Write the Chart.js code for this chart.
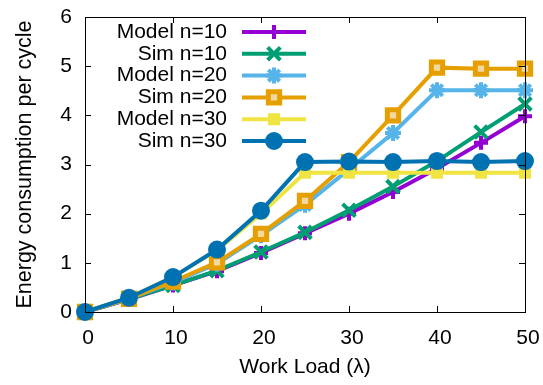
<!DOCTYPE html>
<html>
<head>
<meta charset="utf-8">
<script src="https://cdn.jsdelivr.net/npm/chart.js@4/dist/chart.umd.min.js"></script>
<style>
  html, body { margin: 0; padding: 0; background: #fff; }
  #wrap { width: 543px; height: 385px; position: relative; }
</style>
</head>
<body>
<div id="wrap"><canvas id="energyChart"></canvas></div>
<script>
// work load values on the x axis
const workLoad = [0, 5, 10, 15, 20, 25, 30, 35, 40, 45, 50];

// energy per cycle, one array per curve
const modelN10 = [0, 0.26, 0.54, 0.83, 1.20, 1.60, 2.00, 2.44, 2.92, 3.44, 3.98];
const simN10   = [0, 0.27, 0.54, 0.84, 1.22, 1.62, 2.07, 2.55, 3.07, 3.66, 4.23];
const modelN20 = [0, 0.27, 0.60, 0.98, 1.56, 2.18, 2.90, 3.64, 4.51, 4.51, 4.51];
const simN20   = [0, 0.27, 0.62, 1.01, 1.59, 2.26, 3.05, 4.00, 4.97, 4.95, 4.95];
const modelN30 = [0, 0.29, 0.71, 1.26, 2.00, 2.83, 2.83, 2.83, 2.83, 2.83, 2.83];
const simN30   = [0, 0.29, 0.71, 1.27, 2.06, 3.05, 3.06, 3.05, 3.07, 3.05, 3.07];

const seriesNames = ['Model n=10', 'Sim n=10', 'Model n=20', 'Sim n=20', 'Model n=30', 'Sim n=30'];
const seriesData = [modelN10, simN10, modelN20, simN20, modelN30, simN30];

const xTicks = [0, 10, 20, 30, 40, 50];
const yTicks = [0, 1, 2, 3, 4, 5, 6];

// gnuplot-like line/point styles
const styles = [
  { color: '#9400d3', pointStyle: 'cross',    radius: 7, bw: 4, fill: '#9400d3' },
  { color: '#009e73', pointStyle: 'crossRot', radius: 9, bw: 4, fill: '#009e73' },
  { color: '#56b4e9', pointStyle: 'star',     radius: 8, bw: 4, fill: '#56b4e9' },
  { color: '#e69f00', pointStyle: 'rect',     radius: 8, bw: 5, fill: '#f3d9a0' },
  { color: '#f0e442', pointStyle: 'rect',     radius: 7, bw: 2, fill: '#f0e442' },
  { color: '#0072b2', pointStyle: 'circle',   radius: 8, bw: 2, fill: '#0072b2' }
];

Chart.defaults.font.family = "'Liberation Sans', Arial, sans-serif";
Chart.defaults.font.size = 21;
Chart.defaults.color = '#000';

const datasets = seriesNames.map((name, i) => ({
  label: name,
  data: workLoad.map((x, j) => ({ x: x, y: seriesData[i][j] })),
  borderColor: styles[i].color,
  backgroundColor: styles[i].fill,
  borderWidth: 4,
  pointStyle: styles[i].pointStyle,
  pointRadius: styles[i].radius,
  pointBorderWidth: styles[i].bw,
  pointBorderColor: styles[i].color,
  pointBackgroundColor: styles[i].fill,
  tension: 0,
  clip: false,
  order: seriesNames.length - 1 - i
}));

// border box with inward ticks on all four sides, then the key
const framePlugin = {
  id: 'frame',
  afterDatasetsDraw(chart) {
    const ctx = chart.ctx;
    const { left, right, top, bottom } = chart.chartArea;
    const xs = chart.scales.x, ys = chart.scales.y;
    ctx.save();
    ctx.strokeStyle = '#000';
    ctx.lineWidth = 1;
    ctx.strokeRect(Math.round(left) + 0.5, Math.round(top) + 0.5, Math.round(right - left), Math.round(bottom - top));
    ctx.beginPath();
    xTicks.slice(1, -1).forEach(v => {
      const px = Math.round(xs.getPixelForValue(v)) + 0.5;
      ctx.moveTo(px, bottom); ctx.lineTo(px, bottom - 6);
      ctx.moveTo(px, top); ctx.lineTo(px, top + 6);
    });
    yTicks.slice(1, -1).forEach(v => {
      const py = Math.round(ys.getPixelForValue(v)) + 0.5;
      ctx.moveTo(left, py); ctx.lineTo(left + 6, py);
      ctx.moveTo(right, py); ctx.lineTo(right - 6, py);
    });
    ctx.stroke();

    // key
    const textRight = 227, lineStart = 242, lineEnd = 306, rowTop = 32, rowGap = 21.8;
    ctx.font = "21px 'Liberation Sans', Arial, sans-serif";
    ctx.textAlign = 'right';
    ctx.textBaseline = 'middle';
    seriesNames.forEach((name, i) => {
      const y = rowTop + i * rowGap;
      const st = styles[i];
      ctx.fillStyle = '#000';
      ctx.fillText(name, textRight, y);
      ctx.strokeStyle = st.color;
      ctx.lineWidth = 4;
      ctx.beginPath();
      ctx.moveTo(lineStart, y);
      ctx.lineTo(lineEnd, y);
      ctx.stroke();
      ctx.fillStyle = st.fill;
      ctx.lineWidth = st.bw;
      Chart.helpers.drawPoint(ctx, { pointStyle: st.pointStyle, radius: st.radius, borderWidth: st.bw, rotation: 0 }, (lineStart + lineEnd) / 2, y);
    });
    ctx.restore();
  }
};

new Chart(document.getElementById('energyChart'), {
  type: 'line',
  data: { datasets: datasets },
  options: {
    responsive: true,
    maintainAspectRatio: false,
    animation: false,
    layout: { padding: { left: 0, top: 17, right: 18, bottom: 0 } },
    plugins: { legend: { display: false }, tooltip: { enabled: false } },
    scales: {
      x: {
        type: 'linear',
        min: 0,
        max: 50,
        afterBuildTicks(scale) { scale.ticks = xTicks.map(v => ({ value: v })); },
        afterFit(scale) {
          scale.height = 73;
          scale.paddingLeft = 0;
          scale.paddingRight = 0;
        },
        grid: { display: false, drawTicks: false },
        border: { display: false },
        ticks: { padding: 14, maxRotation: 0, labelOffset: 3 },
        title: { display: true, text: 'Work Load (λ)', padding: { top: 0, bottom: 5 } }
      },
      y: {
        min: 0,
        max: 6,
        afterBuildTicks(scale) { scale.ticks = yTicks.map(v => ({ value: v })); },
        afterFit(scale) {
          scale.width = 85;
          scale.paddingTop = 0;
          scale.paddingBottom = 0;
        },
        grid: { display: false, drawTicks: false },
        border: { display: false },
        ticks: { padding: 13 },
        title: { display: true, text: 'Energy consumption per cycle', font: { size: 21.5 }, padding: { top: 12, bottom: 0 } }
      }
    }
  },
  plugins: [framePlugin]
});
</script>
</body>
</html>
